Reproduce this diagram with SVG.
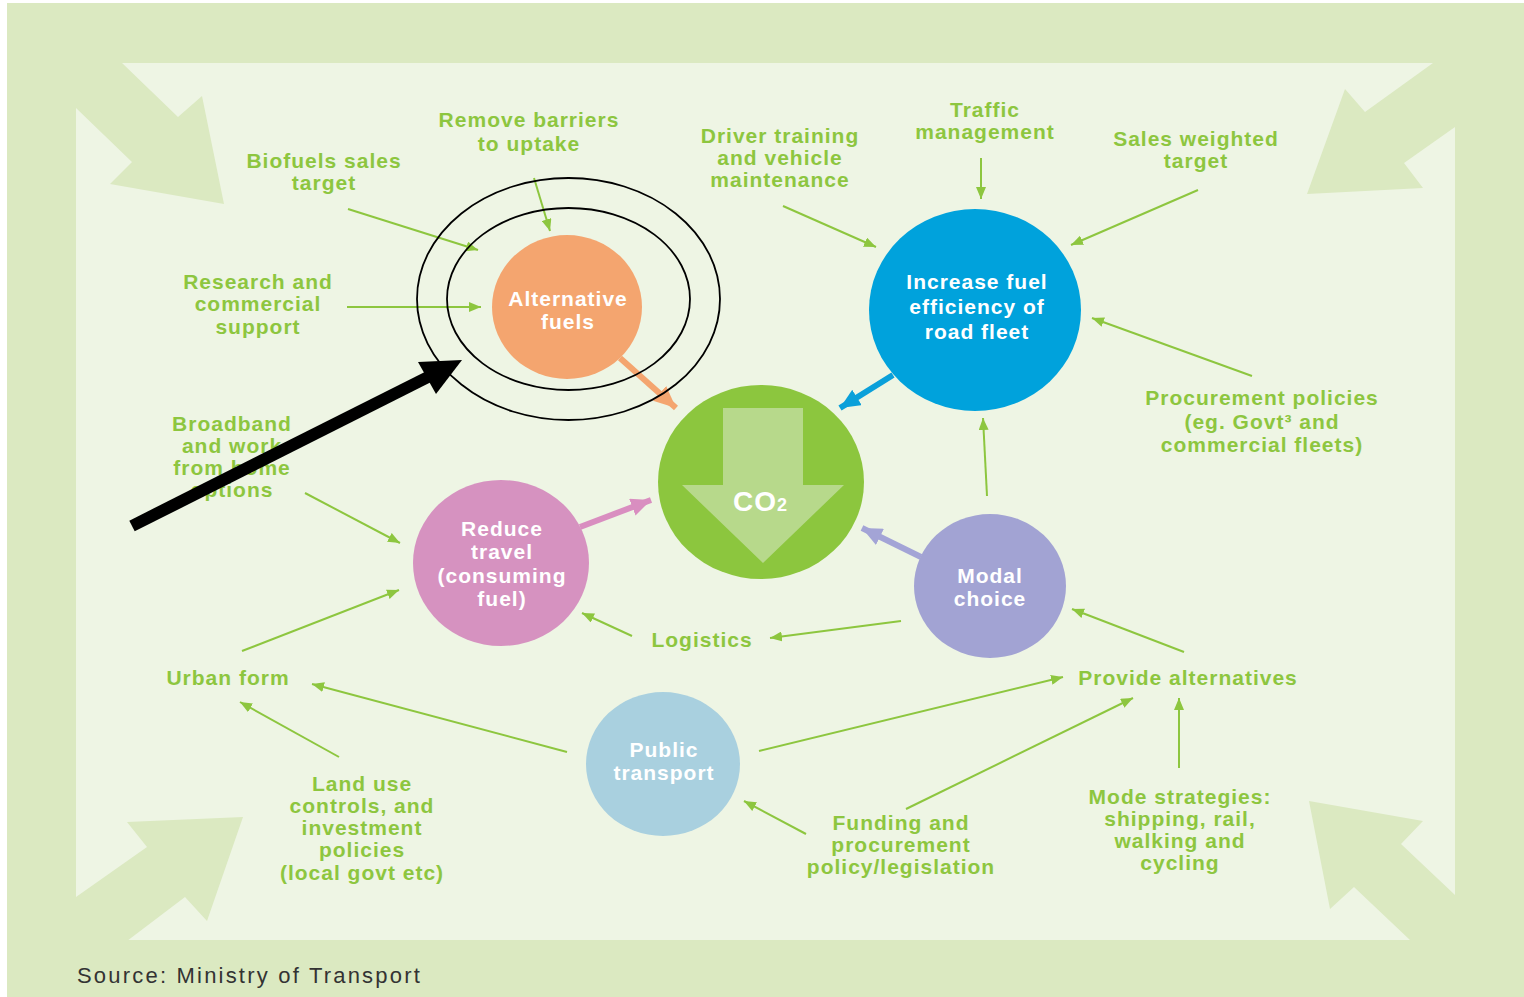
<svg xmlns="http://www.w3.org/2000/svg" width="1524" height="997" viewBox="0 0 1524 997">
<style>
.lbl{font-family:"Liberation Sans",Arial,sans-serif;font-weight:bold;font-size:21px;letter-spacing:1px;fill:#8dc63f;text-anchor:middle}
.wt{font-family:"Liberation Sans",Arial,sans-serif;font-weight:bold;font-size:21px;letter-spacing:1px;fill:#ffffff;text-anchor:middle}
.gl{stroke:#8dc63f;stroke-width:2;fill:none}
.band{fill:#dbe9c1}
</style>
<defs>
<marker id="ga" viewBox="0 0 12 10" refX="12" refY="5" markerWidth="12" markerHeight="10" markerUnits="userSpaceOnUse" orient="auto"><path d="M0,0 L12,5 L0,10 z" fill="#8dc63f"/></marker>
<marker id="oa" viewBox="0 0 20 18" refX="20" refY="9" markerWidth="22" markerHeight="20" markerUnits="userSpaceOnUse" orient="auto"><path d="M0,0 L20,9 L0,18 z" fill="#f4a56f"/></marker>
<marker id="ba" viewBox="0 0 20 18" refX="20" refY="9" markerWidth="20" markerHeight="18" markerUnits="userSpaceOnUse" orient="auto"><path d="M0,0 L20,9 L0,18 z" fill="#0aa0da"/></marker>
<marker id="pa" viewBox="0 0 20 18" refX="20" refY="9" markerWidth="20" markerHeight="18" markerUnits="userSpaceOnUse" orient="auto"><path d="M0,0 L20,9 L0,18 z" fill="#d98ec0"/></marker>
<marker id="la" viewBox="0 0 20 18" refX="20" refY="9" markerWidth="20" markerHeight="18" markerUnits="userSpaceOnUse" orient="auto"><path d="M0,0 L20,9 L0,18 z" fill="#a3a4d6"/></marker>
</defs>
<rect x="0" y="0" width="1524" height="997" fill="#ffffff"/>
<g id="frame">
<rect x="7" y="3" width="1517" height="994" class="band"/>
<rect x="76" y="63" width="1379" height="877" fill="#eef5e4"/>
<polygon class="band" points="76,63 122,63 178,117 202,96 224,204 110,184 132,162 76,108"/>
<polygon class="band" points="1455,63 1433,63 1365,112 1345,89 1307,194 1423,188 1404,163 1455,127"/>
<polygon class="band" points="76,941 127,941 185,897 207,921 243,817 127,822 147,847 76,897"/>
<polygon class="band" points="1455,940 1410,940 1354,887 1330,909 1309,801 1423,821 1401,844 1455,895"/>
<text x="77" y="983" font-family="Liberation Sans,Arial,sans-serif" font-size="22" letter-spacing="2.2" fill="#333333">Source: Ministry of Transport</text>
</g>
<g id="connectors">
<line class="gl" x1="348" y1="209" x2="478" y2="250" marker-end="url(#ga)"/>
<line class="gl" x1="534" y1="178" x2="550" y2="231" marker-end="url(#ga)"/>
<line class="gl" x1="347" y1="307" x2="481" y2="307" marker-end="url(#ga)"/>
<line class="gl" x1="305" y1="493" x2="400" y2="543" marker-end="url(#ga)"/>
<line class="gl" x1="783" y1="206" x2="876" y2="247" marker-end="url(#ga)"/>
<line class="gl" x1="981" y1="158" x2="981" y2="199" marker-end="url(#ga)"/>
<line class="gl" x1="1198" y1="190" x2="1071" y2="245" marker-end="url(#ga)"/>
<line class="gl" x1="1252" y1="376" x2="1092" y2="318" marker-end="url(#ga)"/>
<line class="gl" x1="987" y1="496" x2="983" y2="418" marker-end="url(#ga)"/>
<line class="gl" x1="632" y1="636" x2="582" y2="613" marker-end="url(#ga)"/>
<line class="gl" x1="901" y1="621" x2="770" y2="638" marker-end="url(#ga)"/>
<line class="gl" x1="242" y1="651" x2="399" y2="590" marker-end="url(#ga)"/>
<line class="gl" x1="567" y1="752" x2="312" y2="684" marker-end="url(#ga)"/>
<line class="gl" x1="339" y1="757" x2="240" y2="702" marker-end="url(#ga)"/>
<line class="gl" x1="759" y1="751" x2="1063" y2="677" marker-end="url(#ga)"/>
<line class="gl" x1="806" y1="834" x2="744" y2="801" marker-end="url(#ga)"/>
<line class="gl" x1="906" y1="809" x2="1133" y2="698" marker-end="url(#ga)"/>
<line class="gl" x1="1184" y1="652" x2="1072" y2="609" marker-end="url(#ga)"/>
<line class="gl" x1="1179" y1="768" x2="1179" y2="698" marker-end="url(#ga)"/>
<line x1="620" y1="358" x2="676" y2="408" stroke="#f4a56f" stroke-width="6" marker-end="url(#oa)"/>
<line x1="893" y1="375" x2="840" y2="408" stroke="#0aa0da" stroke-width="6" marker-end="url(#ba)"/>
<line x1="580" y1="527" x2="651" y2="500" stroke="#d98ec0" stroke-width="6" marker-end="url(#pa)"/>
<line x1="921" y1="557" x2="862" y2="528" stroke="#a3a4d6" stroke-width="6" marker-end="url(#la)"/>
</g>
<g id="co2">
<ellipse cx="761" cy="482" rx="103" ry="97" fill="#8cc63e"/>
<polygon points="723,408 803,408 803,485 844,485 763,563 682,485 723,485" fill="#b7d98b"/>
<text x="733" y="511" font-family="Liberation Sans,Arial,sans-serif" font-weight="bold" font-size="28" letter-spacing="1" fill="#ffffff">CO<tspan font-size="18">2</tspan></text>
</g>
<g id="alternative-fuels">
<ellipse cx="567" cy="307" rx="75" ry="72" fill="#f4a56f"/>
<text class="wt" x="568" y="306">Alternative</text>
<text class="wt" x="568" y="329">fuels</text>
</g>
<g id="increase-fuel-efficiency">
<ellipse cx="975" cy="310" rx="106" ry="101" fill="#00a2dc"/>
<text class="wt" x="977" y="289">Increase fuel</text>
<text class="wt" x="977" y="314">efficiency of</text>
<text class="wt" x="977" y="339">road fleet</text>
</g>
<g id="reduce-travel">
<ellipse cx="501" cy="563" rx="88" ry="83" fill="#d692c0"/>
<text class="wt" x="502" y="536">Reduce</text>
<text class="wt" x="502" y="559">travel</text>
<text class="wt" x="502" y="583">(consuming</text>
<text class="wt" x="502" y="606">fuel)</text>
</g>
<g id="modal-choice">
<ellipse cx="990" cy="586" rx="76" ry="72" fill="#a2a3d3"/>
<text class="wt" x="990" y="583">Modal</text>
<text class="wt" x="990" y="606">choice</text>
</g>
<g id="public-transport">
<ellipse cx="663" cy="764" rx="77" ry="72" fill="#a9d0df"/>
<text class="wt" x="664" y="757">Public</text>
<text class="wt" x="664" y="780">transport</text>
</g>
<g id="labels">
<g id="remove-barriers"><text class="lbl" x="529" y="127">Remove barriers</text><text class="lbl" x="529" y="151">to uptake</text></g>
<g id="biofuels"><text class="lbl" x="324" y="168">Biofuels sales</text><text class="lbl" x="324" y="190">target</text></g>
<g id="research"><text class="lbl" x="258" y="289">Research and</text><text class="lbl" x="258" y="311">commercial</text><text class="lbl" x="258" y="334">support</text></g>
<g id="driver"><text class="lbl" x="780" y="143">Driver training</text><text class="lbl" x="780" y="165">and vehicle</text><text class="lbl" x="780" y="187">maintenance</text></g>
<g id="traffic"><text class="lbl" x="985" y="117">Traffic</text><text class="lbl" x="985" y="139">management</text></g>
<g id="sales-weighted"><text class="lbl" x="1196" y="146">Sales weighted</text><text class="lbl" x="1196" y="168">target</text></g>
<g id="procurement"><text class="lbl" x="1262" y="405">Procurement policies</text><text class="lbl" x="1262" y="429">(eg. Govt³ and</text><text class="lbl" x="1262" y="452">commercial fleets)</text></g>
<g id="broadband"><text class="lbl" x="232" y="431">Broadband</text><text class="lbl" x="232" y="453">and work</text><text class="lbl" x="232" y="475">from home</text><text class="lbl" x="232" y="497">options</text></g>
<g id="logistics"><text class="lbl" x="702" y="647">Logistics</text></g>
<g id="urban-form"><text class="lbl" x="228" y="685">Urban form</text></g>
<g id="provide-alternatives"><text class="lbl" x="1188" y="685">Provide alternatives</text></g>
<g id="land-use"><text class="lbl" x="362" y="791">Land use</text><text class="lbl" x="362" y="813">controls, and</text><text class="lbl" x="362" y="835">investment</text><text class="lbl" x="362" y="857">policies</text><text class="lbl" x="362" y="880">(local govt etc)</text></g>
<g id="funding"><text class="lbl" x="901" y="830">Funding and</text><text class="lbl" x="901" y="852">procurement</text><text class="lbl" x="901" y="874">policy/legislation</text></g>
<g id="mode-strategies"><text class="lbl" x="1180" y="804">Mode strategies:</text><text class="lbl" x="1180" y="826">shipping, rail,</text><text class="lbl" x="1180" y="848">walking and</text><text class="lbl" x="1180" y="870">cycling</text></g>
</g>
<g id="highlight">
<ellipse cx="568.5" cy="299" rx="151.5" ry="121" fill="none" stroke="#000" stroke-width="1.8"/>
<ellipse cx="568.5" cy="299" rx="121.5" ry="91" fill="none" stroke="#000" stroke-width="1.8"/>
<line x1="132" y1="526" x2="430" y2="376" stroke="#000" stroke-width="12"/>
<polygon points="462,360 418,362 436,394" fill="#000"/>
</g>
</svg>
